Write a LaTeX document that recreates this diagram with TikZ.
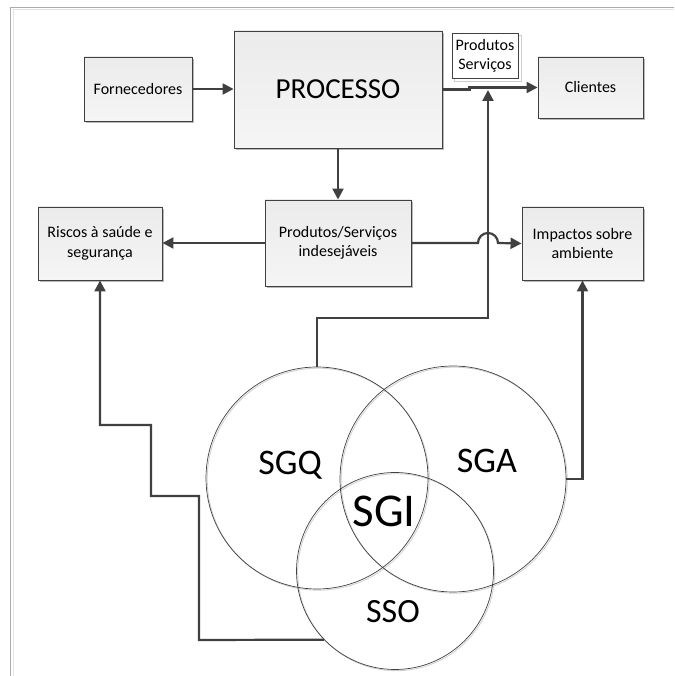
\documentclass[tikz,border=0pt]{standalone}
\usepackage{fontspec}
\setmainfont{Carlito}
\usetikzlibrary{arrows.meta,shadows}
\definecolor{ln}{HTML}{404040}
\definecolor{boxtop}{HTML}{EBEBEB}
\definecolor{boxbot}{HTML}{F5F5F5}
\tikzset{
  box/.style={draw=ln, line width=0.9pt, top color=boxtop, bottom color=boxbot,
    align=center, inner sep=0pt, font=\fontsize{16}{19.5}\selectfont,
    drop shadow={shadow xshift=2.2pt, shadow yshift=-2.2pt, fill=gray!55, opacity=1}},
  conn/.style={draw=ln, line width=2.2pt},
  arr/.style={conn, -{Triangle[length=11pt,width=11pt]}},
  ring/.style={circle, draw=ln, line width=0.7pt, inner sep=0pt},
  ringsh/.style={circle, draw=gray!35, line width=0.9pt, inner sep=0pt},
  big/.style={font=\fontsize{36}{40}\selectfont, anchor=base, inner sep=0pt}
}
\begin{document}
\begin{tikzpicture}[x=1pt,y=1pt]
\useasboundingbox (0,0) rectangle (674,676);
% frame
\draw[gray!65, line width=1.3pt] (10.7,0) -- (10.7,668.7) -- (674,668.7);
\draw[gray!22, line width=1.2pt] (13.4,0) -- (13.4,666.2) -- (674,666.2);
% boxes
\node[box, minimum width=108pt, minimum height=64pt] (forn) at (138,587) {Fornecedores};
\node[box, minimum width=208pt, minimum height=117pt, font=\fontsize{29}{32}\selectfont] (proc) at (338,586.5) {PROCESSO};
\node[box, minimum width=105pt, minimum height=61pt] (cli) at (590.5,588.5) {Clientes};
\node[box, minimum width=124pt, minimum height=73pt] (ris) at (100,432.5) {Riscos à saúde e\\segurança};
\node[box, minimum width=146pt, minimum height=86pt] (ind) at (338,433) {Produtos/Serviços\\indesejáveis};
\node[box, minimum width=121pt, minimum height=73pt] (imp) at (582.5,432.5) {Impactos sobre\\ambiente};
% Produtos Servicos label box
\draw[gray!40, line width=0.9pt] (454.5,595) rectangle (521,641);
\node[draw=ln, fill=white, line width=0.7pt, minimum width=66pt, minimum height=45pt, inner sep=0pt,
  align=center, font=\fontsize{16}{19}\selectfont] (ps) at (485,620) {Produtos\\Serviços};
% circles
\node[ringsh, minimum size=222pt] at (318.2,196.8) {};
\node[ringsh, minimum size=226pt] at (454.2,195.8) {};
\node[ringsh, minimum size=197pt] at (396.2,103.8) {};
\node[ring, minimum size=222pt] (sgq) at (317,198) {};
\node[ring, minimum size=226pt] (sga) at (453,197) {};
\node[ring, minimum size=197pt] (sso) at (395,105) {};
\node[big] (tq) at (290,201) {SGQ};
\node[big] (ta) at (487,203) {SGA};
\node[big, font=\fontsize{47}{50}\selectfont] (ti) at (384,149) {SGI};
\node[big, font=\fontsize{34}{38}\selectfont] (to) at (393,53) {SSO};
% connectors
\coordinate (j) at (488,586);
\draw[arr] (forn.east) -- (forn.east -| proc.west);
\draw[arr] (proc.east) -- ++(27,0) |- (cli.west);
\draw[arr] (proc.south) -- (ind.north);
\draw[arr] (ind.west) -- (ind.west -| ris.east);
\draw[arr] (ind.east) -- (478,433) arc (180:0:10) -- (imp.west);
\draw[arr] (sgq.north) |- (488,358) -- (j);
\draw[arr] (sga.east) -| (imp.south);
\draw[arr] (sso.224.5) -- (199,36) -- (199,180) -- (151,180) -- (151,251) -- (100,251) -- (ris.south);
\end{tikzpicture}
\end{document}
